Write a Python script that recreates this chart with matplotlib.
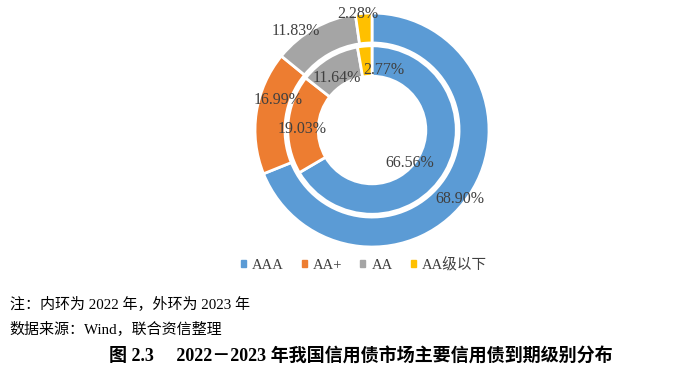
import numpy as np
import matplotlib.pyplot as plt

plt.rcParams['font.family'] = ['Liberation Serif', 'Noto Sans CJK SC']

categories = ["AAA", "AA+", "AA", "AA级以下"]
share_2022 = [66.56, 19.03, 11.64, 2.77]   # inner ring
share_2023 = [68.90, 16.99, 11.83, 2.28]   # outer ring
colors = ["#5B9BD5", "#ED7D31", "#A5A5A5", "#FFC000"]

# label placement (radius, angle shift in degrees from wedge middle)
outer_lab = [(0.955, 4), (0.84, 9), (1.07, -8), (1.0, -3)]
inner_lab = [(0.43, 11), (0.60, -3), (0.54, -3), (0.52, 16)]

fig = plt.figure(figsize=(7, 3.72), dpi=100)
ax = fig.add_axes([0.3643, 0.336, 0.3343, 0.629])

R_out, W_out = 1.0, 0.256
R_in, W_in = 0.72, 0.26
ax.pie(share_2023, radius=R_out, colors=colors, startangle=90, counterclock=False,
       wedgeprops=dict(width=W_out, edgecolor="white", linewidth=2))
ax.pie(share_2022, radius=R_in, colors=colors, startangle=90, counterclock=False,
       wedgeprops=dict(width=W_in, edgecolor="white", linewidth=2))
ax.set_xlim(-1, 1)
ax.set_ylim(-1, 1)


def put_labels(vals, lab):
    start = 0.0
    for v, (r, d) in zip(vals, lab):
        mid = np.radians(start + v * 3.6 / 2 + d)
        ax.text(r * np.sin(mid), r * np.cos(mid), f"{v:.2f}%", ha="center", va="center",
                fontsize=11.5, color="#404040", clip_on=False)
        start += v * 3.6


put_labels(share_2023, outer_lab)
put_labels(share_2022, inner_lab)

handles = [plt.Rectangle((0, 0), 1, 1, color=c) for c in colors]
fig.legend(handles, categories, loc="center", bbox_to_anchor=(0.52, 0.288), ncol=4,
           frameon=False, fontsize=10.5, handlelength=0.35, handleheight=0.35,
           handletextpad=0.45, columnspacing=1.2, labelcolor="#404040")

fig.text(0.014, 0.185, "注：内环为 2022 年，外环为 2023 年", fontsize=10.8, va="center")
fig.text(0.014, 0.118, "数据来源：Wind，联合资信整理", fontsize=10.8, va="center")
fig.text(0.516, 0.045, "图 2.3　 2022－2023 年我国信用债市场主要信用债到期级别分布",
         fontsize=13, fontweight="bold", ha="center", va="center")

fig.savefig("out.png", dpi=100)
